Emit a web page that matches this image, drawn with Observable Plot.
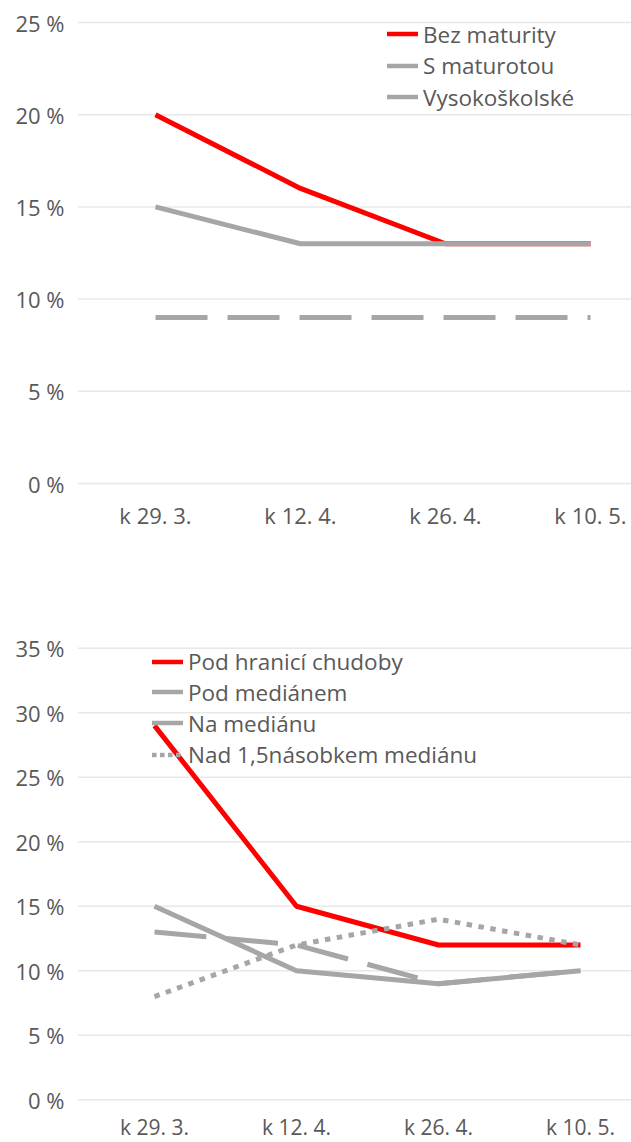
<!DOCTYPE html>
<html><head><meta charset="utf-8">
<script src="https://cdn.jsdelivr.net/npm/d3@7"></script>
<script src="https://cdn.jsdelivr.net/npm/@observablehq/plot@0.6"></script>
<style>
body{margin:0;background:#fff;font-family:"Open Sans",sans-serif;}
#wrap{position:relative;width:631px;height:1142px;overflow:hidden;background:#fff}
.panel{position:absolute;left:0;width:631px}
.item{position:absolute;white-space:nowrap;display:flex;align-items:center;height:30px;font-size:22.5px;color:#595959;font-family:"Open Sans",sans-serif}
.item svg{margin-right:5px;flex:none}
</style></head><body>
<div id="wrap">
  <div id="p1" class="panel" style="top:0"></div>
  <div id="p2" class="panel" style="top:560px"></div>
</div>
<script>
// ---- data ----
const dates = ["k 29. 3.", "k 12. 4.", "k 26. 4.", "k 10. 5."];

const eduNames = ["Bez maturity", "S maturotou", "Vysokoškolské"];
const bezMaturity   = [20, 16, 13, 13];
const sMaturitou    = [15, 13, 13, 13];
const vysokoskolske = [9, 9, 9, 9];
const ticksTop = [0, 5, 10, 15, 20, 25];

const incNames = ["Pod hranicí chudoby", "Pod mediánem", "Na mediánu", "Nad 1,5násobkem mediánu"];
const podHranici  = [29, 15, 12, 12];
const podMedianem = [13, 12, 9, 10];
const naMedianu   = [15, 10, 9, 10];
const nadMedianem = [8, 12, 14, 12];
const ticksBottom = [0, 5, 10, 15, 20, 25, 30, 35];

// ---- styles ----
const RED = "#ff0000", GRAY = "#a6a6a6";
const LDASH = "52,20", DOT = "5.5,6.5";

const topSeries = [
  {name: eduNames[0], values: bezMaturity, color: RED, dash: null},
  {name: eduNames[1], values: sMaturitou, color: GRAY, dash: null},
  {name: eduNames[2], values: vysokoskolske, color: GRAY, dash: LDASH}
];
const bottomSeries = [
  {name: incNames[0], values: podHranici, color: RED, dash: null},
  {name: incNames[1], values: podMedianem, color: GRAY, dash: LDASH},
  {name: incNames[2], values: naMedianu, color: GRAY, dash: null},
  {name: incNames[3], values: nadMedianem, color: GRAY, dash: DOT}
];

function chart({series, ticks, height, marginTop, marginBottom, xRange, pad, xFont}) {
  const rows = series.flatMap(s => s.values.map((v, i) => ({date: dates[i], value: v, name: s.name})));
  return Plot.plot({
    width: 631, height, marginLeft: 78, marginRight: 0, marginTop, marginBottom,
    style: {fontFamily: '"Open Sans", sans-serif', fontSize: "22px", color: "#595959", background: "white", overflow: "visible"},
    x: {type: "point", domain: dates, range: xRange, padding: 0, label: null},
    y: {domain: [0, ticks[ticks.length - 1]], label: null},
    marks: [
      Plot.gridY(ticks, {stroke: "#e8e8e8", strokeOpacity: 1, strokeWidth: 1.5}),
      Plot.axisY(ticks, {tickSize: 0, tickPadding: 14, dy: 2, tickFormat: d => d + " %", fill: "#595959", fontSize: 22, label: null}),
      Plot.axisX({tickSize: 0, tickPadding: pad, fill: "#595959", fontSize: xFont, label: null}),
      ...series.map(s => Plot.line(rows.filter(r => r.name === s.name), {
        x: "date", y: "value", stroke: s.color, strokeWidth: 5,
        strokeDasharray: s.dash, strokeLinecap: "butt", strokeLinejoin: "round"
      }))
    ]
  });
}

document.getElementById("p1").appendChild(chart({
  series: topSeries, ticks: ticksTop, height: 560, marginTop: 22, marginBottom: 77,
  xRange: [154, 590], pad: 25, xFont: 22
}));
document.getElementById("p2").appendChild(chart({
  series: bottomSeries, ticks: ticksBottom, height: 582, marginTop: 87.7, marginBottom: 42.7,
  xRange: [153, 580], pad: 20.5, xFont: 21
}));

function legend(parent, series, left, tops) {
  series.forEach((s, i) => {
    const d = document.createElement("div");
    d.className = "item";
    d.style.left = left + "px";
    d.style.top = (tops[i] - 15) + "px";
    const dash = s.dash === DOT ? "4.5,3.5" : "none";
    d.innerHTML = `<svg width="31" height="6"><line x1="0" x2="31" y1="3" y2="3" stroke="${s.color}" stroke-width="4.5" stroke-dasharray="${dash}"/></svg><span>${s.name}</span>`;
    parent.appendChild(d);
  });
}
legend(document.getElementById("p1"), topSeries, 387, [34, 65.5, 97]);
legend(document.getElementById("p2"), bottomSeries, 152, [101.7, 132, 163.3, 194.7]);
</script>
</body></html>
